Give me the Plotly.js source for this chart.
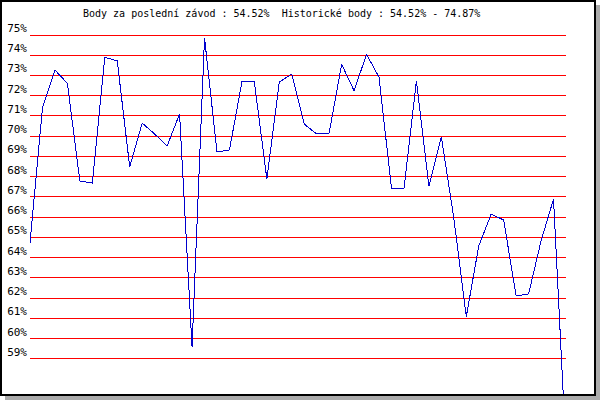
<!DOCTYPE html>
<html>
<head>
<meta charset="utf-8">
<script src="https://cdn.plot.ly/plotly-3.0.1.min.js"></script>
<style>
  html, body { margin: 0; padding: 0; background: #ffffff; }
  #wrap { position: relative; width: 600px; height: 400px; overflow: hidden; }
  #chart { position: absolute; left: 0; top: 0; width: 600px; height: 400px; }
  #frame { position: absolute; left: 0; top: 0; width: 596px; height: 396px; box-sizing: border-box;
           border: 2px solid #000000; box-shadow: 5px 5px 0 #ababab; pointer-events: none; }
  #chart .scatterlayer path { shape-rendering: crispEdges; }
</style>
</head>
<body>
<div id="wrap">
  <div id="chart"></div>
  <div id="frame"></div>
</div>
<script>
// Race numbers (one per result)
const races = [];
for (let i = 1; i <= 44; i++) races.push(i);

// Points share per race (%)
const points = [64.73, 71.40, 73.27, 72.61, 67.79, 67.69, 73.90, 73.72, 68.48, 70.65,
                70.11, 69.52, 71.10, 59.59, 74.87, 69.22, 69.32, 72.68, 72.68, 67.89,
                72.68, 73.07, 70.60, 70.11, 70.16, 73.55, 72.25, 74.05, 72.91, 67.44,
                67.40, 72.74, 67.54, 69.96, 65.96, 61.09, 64.58, 66.16, 65.86, 62.11,
                62.21, 64.83, 66.90, 54.52];

// Y tick values and labels
const tickValues = [59, 60, 61, 62, 63, 64, 65, 66, 67, 68, 69, 70, 71, 72, 73, 74, 75];
const tickLabels = tickValues.map(v => v + '%');

const titleText = 'Body za poslední závod : 54.52%  Historické body : 54.52% - 74.87%';

const trace = {
  x: races,
  y: points,
  type: 'scatter',
  mode: 'lines',
  line: { color: '#0000cc', width: 1 },
  hoverinfo: 'skip'
};

const layout = {
  width: 600,
  height: 400,
  margin: { l: 30, r: 34, t: 30, b: 6, pad: 0 },
  paper_bgcolor: '#ffffff',
  plot_bgcolor: '#ffffff',
  showlegend: false,
  title: {
    text: titleText,
    font: { family: 'DejaVu Sans Mono, monospace', size: 10, color: '#000000' },
    xref: 'container', yref: 'container',
    x: 83 / 600, xanchor: 'left',
    y: 1 - 13 / 400, yanchor: 'middle'
  },
  xaxis: {
    range: [1, 44],
    showgrid: false, zeroline: false, showline: false,
    showticklabels: false, ticks: ''
  },
  yaxis: {
    range: [57.27, 75.247],
    tickmode: 'array',
    tickvals: tickValues,
    ticktext: tickLabels,
    showgrid: true,
    gridcolor: '#ff0000',
    gridwidth: 1,
    zeroline: false,
    showline: false,
    ticks: '',
    ticklabelstandoff: 2,
    ticklabelshift: -7,
    tickfont: { family: 'DejaVu Sans Mono, monospace', size: 11, color: '#000000' }
  }
};

Plotly.newPlot('chart', [trace], layout, { staticPlot: true, displayModeBar: false });
</script>
</body>
</html>
